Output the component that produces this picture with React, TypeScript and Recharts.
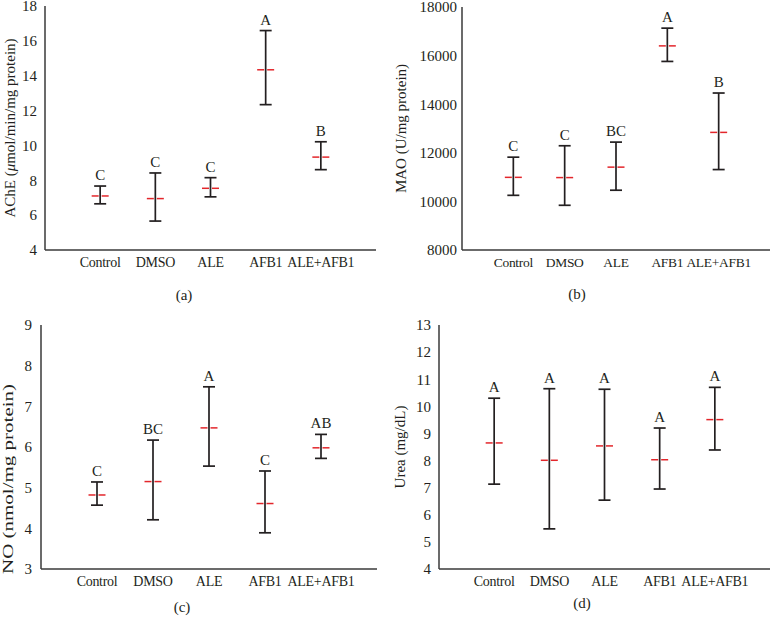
import React from "react";
import { ScatterChart, Scatter, XAxis, YAxis, ErrorBar } from "recharts";

// group names along every x axis
const groups = ["Control", "DMSO", "ALE", "AFB1", "ALE+AFB1"];
const groupPos = [1, 2, 3, 4, 5];

// (a) AChE, µmol/min/mg protein
const achMean = [7.1, 6.95, 7.54, 14.34, 9.33];
const achLow = [6.65, 5.66, 7.05, 12.34, 8.61];
const achHigh = [7.67, 8.42, 8.15, 16.59, 10.21];
const achLetters = ["C", "C", "C", "A", "B"];
const achTicks = [4, 6, 8, 10, 12, 14, 16, 18];

// (b) MAO, U/mg protein
const maoMean = [10990, 10980, 11410, 16400, 12840];
const maoLow = [10250, 9840, 10460, 15760, 11310];
const maoHigh = [11820, 12290, 12440, 17130, 14460];
const maoLetters = ["C", "C", "BC", "A", "B"];
const maoTicks = [8000, 10000, 12000, 14000, 16000, 18000];

// (c) NO, nmol/mg protein
const noMean = [4.82, 5.15, 6.47, 4.61, 5.98];
const noLow = [4.57, 4.21, 5.53, 3.89, 5.72];
const noHigh = [5.14, 6.17, 7.48, 5.41, 6.31];
const noLetters = ["C", "BC", "A", "C", "AB"];
const noTicks = [3, 4, 5, 6, 7, 8, 9];

// (d) Urea, mg/dL
const ureaMean = [8.65, 8.01, 8.54, 8.03, 9.51];
const ureaLow = [7.13, 5.48, 6.54, 6.95, 8.39];
const ureaHigh = [10.3, 10.65, 10.63, 9.2, 10.7];
const ureaLetters = ["A", "A", "A", "A", "A"];
const ureaTicks = [4, 5, 6, 7, 8, 9, 10, 11, 12, 13];

const INK = "#231f20";
const AXIS = "#3a3a3a";
const RED = "#e3262b";
const FONT = "'Liberation Serif', 'DejaVu Serif', serif";

// red mean marker, split where the black whisker crosses it
const MeanDash = (p: any) => {
  const { cx, cy } = p;
  if (cx == null || cy == null) return null;
  return (
    <g>
      <line x1={cx - 8.5} x2={cx - 1.5} y1={cy} y2={cy} stroke={RED} strokeWidth={1.5} />
      <line x1={cx + 1.5} x2={cx + 8.5} y1={cy} y2={cy} stroke={RED} strokeWidth={1.5} />
    </g>
  );
};

// significance letter sitting just above the upper cap
const Letter = (p: any) => {
  const { cx, cy, payload } = p;
  if (cx == null || cy == null) return null;
  return (
    <text x={cx} y={cy - 6} textAnchor="middle" fontSize={15} fill={INK} fontFamily={FONT}>
      {payload.letter}
    </text>
  );
};

interface PanelProps {
  left: number;
  top: number;
  plotLeft: number;
  plotTop: number;
  plotBottom: number;
  right: number;
  domain: [number, number];
  ticks: number[];
  tickGap: number;
  catFont?: number;
  title: React.ReactNode;
  titleX: number;
  titleDy: number;
  stretch?: number;
  caption: string;
  captionX: number;
  captionY: number;
  mean: number[];
  low: number[];
  high: number[];
  letters: string[];
}

function Panel(props: PanelProps) {
  const W = 385;
  const H = 310;
  const rows = groupPos.map((x, i) => ({
    x,
    mean: props.mean[i],
    hi: props.high[i],
    err: [props.mean[i] - props.low[i], props.high[i] - props.mean[i]],
    letter: props.letters[i],
  }));
  const axisH = 30;
  const stretch = props.stretch ?? 1;

  const renderTitle = (lp: any) => {
    const vb = lp && lp.viewBox;
    if (!vb) return null;
    const cy = vb.y + vb.height / 2 + props.titleDy;
    return (
      <text
        transform={`translate(${props.titleX},${cy}) rotate(-90) scale(${stretch},1)`}
        textAnchor="middle"
        dominantBaseline="central"
        fontSize={15}
        fill={INK}
        fontFamily={FONT}
      >
        {props.title}
      </text>
    );
  };

  return (
    <div style={{ position: "absolute", left: props.left, top: props.top, width: W, height: H }}>
      <ScatterChart
        width={W}
        height={H}
        style={{ fontFamily: FONT }}
        margin={{ top: props.plotTop, right: props.right, left: 0, bottom: H - props.plotBottom - axisH }}
      >
        <XAxis
          dataKey="x"
          type="number"
          domain={[0, 6]}
          ticks={groupPos}
          interval={0}
          allowDataOverflow
          tickFormatter={(v: number) => groups[v - 1]}
          tickLine={false}
          tickSize={0}
          tickMargin={7}
          height={axisH}
          axisLine={{ stroke: AXIS, strokeWidth: 1.5 }}
          tick={{ fontSize: props.catFont ?? 14, fill: INK, fontFamily: FONT, letterSpacing: -0.3 }}
        />
        <YAxis
          type="number"
          domain={props.domain}
          ticks={props.ticks}
          interval={0}
          allowDataOverflow
          width={props.plotLeft}
          tickLine={false}
          tickSize={0}
          tickMargin={props.tickGap}
          axisLine={{ stroke: AXIS, strokeWidth: 1.5 }}
          tick={{ fontSize: 15, fill: INK, fontFamily: FONT }}
          label={{ content: renderTitle }}
        />
        <Scatter data={rows} dataKey="mean" shape={MeanDash} isAnimationActive={false}>
          <ErrorBar dataKey="err" direction="y" width={6} stroke={INK} strokeWidth={1.7} isAnimationActive={false} />
        </Scatter>
        <Scatter data={rows} dataKey="hi" shape={Letter} isAnimationActive={false} />
      </ScatterChart>
      <div
        style={{
          position: "absolute",
          left: props.captionX - 20,
          width: 40,
          top: props.captionY - 10,
          textAlign: "center",
          fontSize: 15,
          lineHeight: "20px",
          color: INK,
          fontFamily: FONT,
        }}
      >
        {props.caption}
      </div>
    </div>
  );
}

export default function App() {
  return (
    <div
      style={{
        position: "absolute",
        left: 0,
        top: 0,
        width: 770,
        height: 620,
        background: "#fff",
        overflow: "hidden",
        fontFamily: FONT,
      }}
    >
      <Panel
        left={0}
        top={0}
        plotLeft={45}
        plotTop={6}
        plotBottom={250}
        right={9}
        domain={[4, 18]}
        ticks={achTicks}
        tickGap={8}
        title={
          <>
            AChE (<tspan fontStyle="italic">μ</tspan>mol/min/mg protein)
          </>
        }
        titleX={10}
        titleDy={0}
        caption="(a)"
        captionX={184}
        captionY={295}
        mean={achMean}
        low={achLow}
        high={achHigh}
        letters={achLetters}
      />
      <Panel
        left={385}
        top={0}
        plotLeft={77}
        plotTop={7}
        plotBottom={250}
        right={0}
        domain={[8000, 18000]}
        ticks={maoTicks}
        tickGap={5}
        catFont={13.5}
        title="MAO (U/mg protein)"
        titleX={16}
        titleDy={0}
        caption="(b)"
        captionX={192}
        captionY={294}
        mean={maoMean}
        low={maoLow}
        high={maoHigh}
        letters={maoLetters}
      />
      <Panel
        left={0}
        top={310}
        plotLeft={41}
        plotTop={15}
        plotBottom={259}
        right={8}
        domain={[3, 9]}
        ticks={noTicks}
        tickGap={9}
        title="NO (nmol/mg protein)"
        titleX={8}
        titleDy={32}
        stretch={1.4}
        caption="(c)"
        captionX={182}
        captionY={297}
        mean={noMean}
        low={noLow}
        high={noHigh}
        letters={noLetters}
      />
      <Panel
        left={385}
        top={310}
        plotLeft={54}
        plotTop={15}
        plotBottom={259}
        right={0}
        domain={[4, 13]}
        ticks={ureaTicks}
        tickGap={8}
        title="Urea (mg/dL)"
        titleX={15}
        titleDy={0}
        caption="(d)"
        captionX={197}
        captionY={293}
        mean={ureaMean}
        low={ureaLow}
        high={ureaHigh}
        letters={ureaLetters}
      />
    </div>
  );
}
